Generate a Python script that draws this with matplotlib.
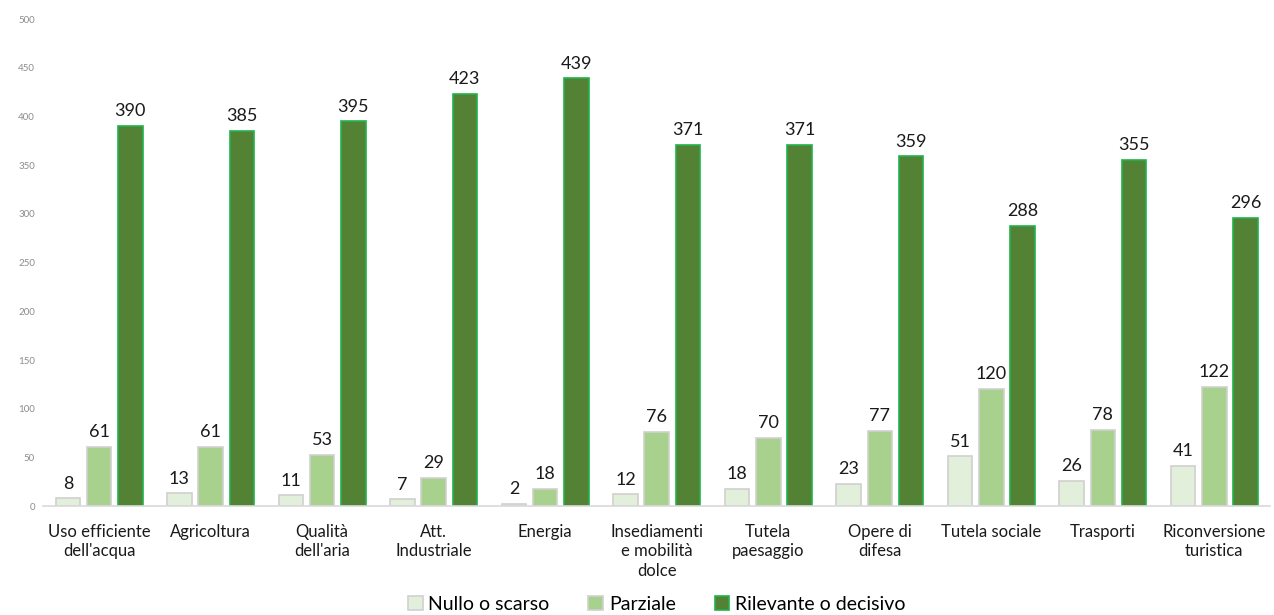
import numpy as np
import matplotlib.pyplot as plt

plt.rcParams['font.family'] = ['Lato', 'DejaVu Sans']

# --- data ---
categories = ["Uso efficiente\ndell'acqua", "Agricoltura", "Qualità\ndell'aria",
              "Att.\nIndustriale", "Energia", "Insediamenti\ne mobilità\ndolce",
              "Tutela\npaesaggio", "Opere di\ndifesa", "Tutela sociale",
              "Trasporti", "Riconversione\nturistica"]
nullo = [8, 13, 11, 7, 2, 12, 18, 23, 51, 26, 41]
parziale = [61, 61, 53, 29, 18, 76, 70, 77, 120, 78, 122]
rilevante = [390, 385, 395, 423, 439, 371, 371, 359, 288, 355, 296]
series_names = ["Nullo o scarso", "Parziale", "Rilevante o decisivo"]

fills = ["#E2EFDA", "#A9D18E", "#548235"]
edges = ["#D0D0D0", "#D0D0D0", "#22B14C"]

fig = plt.figure(figsize=(12.74, 6.15), dpi=100)
ax = fig.add_axes([0.034, 0.177, 0.963, 0.792])

x = np.arange(len(categories))
width = 0.22
offsets = [-0.28, 0.0, 0.28]

for vals, name, fc, ec, off in zip([nullo, parziale, rilevante], series_names, fills, edges, offsets):
    bars = ax.bar(x + off, vals, width, color=fc, edgecolor=ec, linewidth=1.2, label=name)
    for b, v in zip(bars, vals):
        ax.text(b.get_x() + b.get_width() / 2, v + 7, str(v), ha='center', va='bottom',
                fontsize=13, color='#1a1a1a')

ax.set_xlim(-0.5, len(categories) - 0.5)
ax.set_ylim(0, 500)
ax.set_yticks(np.arange(0, 501, 50))
ax.tick_params(axis='y', length=0, labelsize=7, labelcolor='#8c8c8c', pad=6)
ax.set_xticks(x)
ax.set_xticklabels(categories, fontsize=12, color='#1a1a1a', linespacing=1.25)
ax.tick_params(axis='x', length=0, pad=13)

for s in ['top', 'right', 'left']:
    ax.spines[s].set_visible(False)
ax.spines['bottom'].set_color('#d9d9d9')
ax.spines['bottom'].set_linewidth(1.2)

ax.legend(loc='lower center', bbox_to_anchor=(0.5, -0.255), ncol=3, frameon=False,
          fontsize=14, handlelength=0.75, handleheight=0.75, handletextpad=0.3,
          columnspacing=2.0)

fig.savefig("out.png", dpi=100)
